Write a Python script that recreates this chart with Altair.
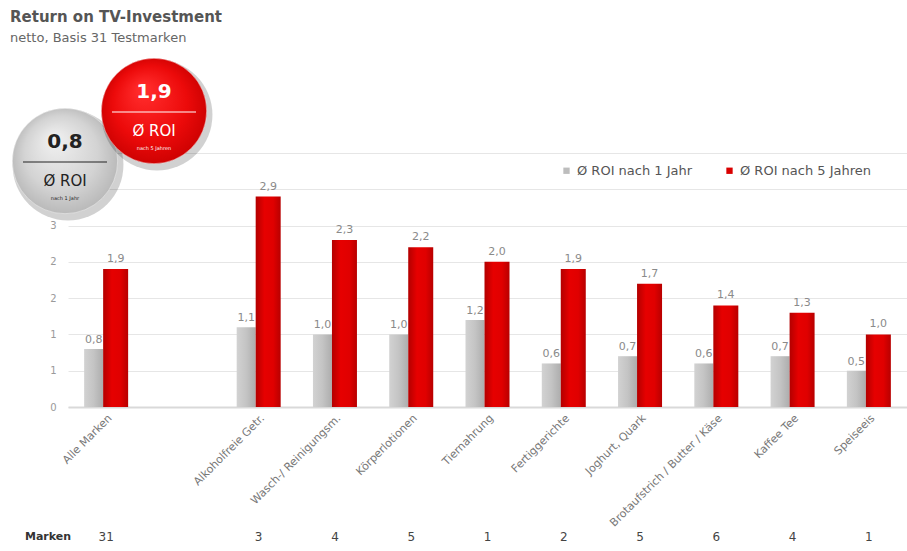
import altair as alt
import pandas as pd

# --- data -----------------------------------------------------------------
categories = [
    "Alle Marken", "Alkoholfreie Getr.", "Wasch-/ Reinigungsm.", "Körperlotionen",
    "Tiernahrung", "Fertiggerichte", "Joghurt, Quark",
    "Brotaufstrich / Butter / Käse", "Kaffee Tee", "Speiseeis",
]
roi_1_jahr = [0.8, 1.1, 1.0, 1.0, 1.2, 0.6, 0.7, 0.6, 0.7, 0.5]
roi_5_jahre = [1.9, 2.9, 2.3, 2.2, 2.0, 1.9, 1.7, 1.4, 1.3, 1.0]
marken = [31, 3, 4, 5, 1, 2, 5, 6, 4, 1]
series = ["Ø ROI nach 1 Jahr", "Ø ROI nach 5 Jahren"]
# an empty slot separates the total from the single categories
axis_order = [categories[0], " "] + categories[1:]
y_ticks = [0, 0.5, 1, 1.5, 2, 2.5, 3, 3.5]

badge_values = [0.8, 1.9]
badge_notes = ["nach 1 Jahr", "nach 5 Jahren"]

title_text = "Return on TV-Investment"
subtitle_text = "netto, Basis 31 Testmarken"

FONT = "DejaVu Sans"
GREY = "#bdbdbd"
RED = "#d90000"

# --- tables ---------------------------------------------------------------
wide = pd.DataFrame({"kategorie": categories, "roi1": roi_1_jahr,
                     "roi5": roi_5_jahre, "marken": marken})
long = wide.melt(id_vars=["kategorie", "marken"], value_vars=["roi1", "roi5"],
                 var_name="key", value_name="roi")
long["serie"] = long["key"].map({"roi1": series[0], "roi5": series[1]})

badges = pd.DataFrame({"wert": badge_values, "note": badge_notes})
heading = pd.DataFrame({"titel": [title_text], "untertitel": [subtitle_text]})

# --- scales / encodings ---------------------------------------------------
x_scale = alt.Scale(domain=axis_order, paddingInner=0, paddingOuter=0)
y_scale = alt.Scale(domain=[0, 3.5], nice=False, zero=True)

x_enc = alt.X("kategorie:N", scale=x_scale, sort=axis_order, title=None,
              axis=alt.Axis(labelAngle=-45, labelFont=FONT, labelFontSize=11,
                            labelColor="#777777", labelPadding=5, ticks=False,
                            domainColor="#d9d9d9", domainWidth=2,
                            labelLimit=220))
# the top labels sit beneath the badges and are left blank
y_enc = alt.Y("roi:Q", scale=y_scale, title=None,
              axis=alt.Axis(values=y_ticks, grid=True,
                            labelExpr="datum.value > 2.6 ? '' : format(datum.value, '.0f')",
                            gridColor="#e6e6e6", domain=False, ticks=False,
                            labelFont=FONT, labelFontSize=10,
                            labelColor="#9a9a9a", labelPadding=12))

grey_fill = alt.Gradient(gradient="linear", x1=0, x2=1, y1=0, y2=0, stops=[
    alt.GradientStop(color="#d2d2d2", offset=0),
    alt.GradientStop(color="#c4c4c4", offset=0.5),
    alt.GradientStop(color="#adadad", offset=1)])
red_fill = alt.Gradient(gradient="linear", x1=0, x2=1, y1=0, y2=0, stops=[
    alt.GradientStop(color="#b30000", offset=0),
    alt.GradientStop(color="#e60000", offset=0.35),
    alt.GradientStop(color="#e00000", offset=0.7),
    alt.GradientStop(color="#b80000", offset=1)])

base = alt.Chart(long)

grey_bars = base.transform_filter(alt.datum.key == "roi1").mark_bar(
    width=19, xOffset=-12.5, fill=grey_fill).encode(x=x_enc, y=y_enc)
red_bars = base.transform_filter(alt.datum.key == "roi5").mark_bar(
    width=25, xOffset=9.5, fill=red_fill).encode(x=x_enc, y=y_enc)

label_calc = "replace(format(datum.roi, '.1f'), '.', ',')"
grey_labels = base.transform_filter(alt.datum.key == "roi1").transform_calculate(
    lbl=label_calc).mark_text(font=FONT, fontSize=11, color="#8a8a8a",
                              baseline="bottom", dy=-4, xOffset=-12.5).encode(
    x=x_enc, y=y_enc, text="lbl:N")
red_labels = base.transform_filter(alt.datum.key == "roi5").transform_calculate(
    lbl=label_calc).mark_text(font=FONT, fontSize=11, color="#8a8a8a",
                              baseline="bottom", dy=-5, xOffset=9.5).encode(
    x=x_enc, y=y_enc, text="lbl:N")

# invisible marks that only carry the colour legend
legend_layer = base.mark_square(opacity=0).encode(
    x=x_enc, y=y_enc,
    color=alt.Color("serie:N", scale=alt.Scale(domain=series, range=[GREY, RED]),
                    legend=alt.Legend(title=None, orient="none", direction="horizontal",
                                      legendX=492, legendY=11, symbolType="square",
                                      symbolSize=40, symbolOpacity=1,
                                      symbolStrokeWidth=0, labelFont=FONT,
                                      labelFontSize=13, labelColor="#555555",
                                      labelOffset=4, columnPadding=30)))

# brand counts below the category labels
count_row = alt.Chart(wide).mark_text(font=FONT, fontSize=12, color="#444444").encode(
    x=x_enc, y=alt.value(384), text="marken:Q")
count_head = alt.Chart(heading).mark_text(
    font=FONT, fontSize=11, fontWeight="bold", color="#333333").encode(
    x=alt.value(-20), y=alt.value(384), text=alt.value("Marken"))

# title block
title_mark = alt.Chart(heading).mark_text(
    font=FONT, fontSize=15, fontWeight="bold", color="#555555",
    align="left", baseline="alphabetic").encode(
    x=alt.value(-58), y=alt.value(-131), text="titel:N")
subtitle_mark = alt.Chart(heading).mark_text(
    font=FONT, fontSize=13, color="#666666",
    align="left", baseline="alphabetic").encode(
    x=alt.value(-58), y=alt.value(-111), text="untertitel:N")

# average badges
grey_ball = alt.Gradient(gradient="radial", x1=0.4, y1=0.3, r1=0.05,
                         x2=0.5, y2=0.5, r2=0.55, stops=[
    alt.GradientStop(color="#ededed", offset=0),
    alt.GradientStop(color="#d3d3d3", offset=0.6),
    alt.GradientStop(color="#b4b4b4", offset=1)])
red_ball = alt.Gradient(gradient="radial", x1=0.4, y1=0.3, r1=0.05,
                        x2=0.5, y2=0.5, r2=0.55, stops=[
    alt.GradientStop(color="#ff2a2a", offset=0),
    alt.GradientStop(color="#ec0a0a", offset=0.6),
    alt.GradientStop(color="#c80000", offset=1)])

fmt_badge = "replace(format(datum.wert, '.1f'), '.', ',')"
grey_badge_data = alt.Chart(badges).transform_filter(
    alt.datum.wert == badge_values[0]).transform_calculate(txt=fmt_badge)
red_badge_data = alt.Chart(badges).transform_filter(
    alt.datum.wert == badge_values[1]).transform_calculate(txt=fmt_badge)


def badge(src, cx, cy, fill, ink):
    shadow = src.mark_circle(color="#000000", opacity=0.18).encode(
        x=alt.value(cx + 3), y=alt.value(cy + 4), size=alt.value(12300))
    disc = src.mark_circle(fill=fill, opacity=1, stroke="#ffffff",
                           strokeOpacity=0.4, strokeWidth=1).encode(
        x=alt.value(cx), y=alt.value(cy), size=alt.value(11100))
    big = src.mark_text(font=FONT, fontSize=20, fontWeight="bold", color=ink).encode(
        x=alt.value(cx), y=alt.value(cy - 19), text="txt:N")
    line = src.mark_rule(color=ink, strokeWidth=1.2).encode(
        x=alt.value(cx - 42), x2=alt.value(cx + 42), y=alt.value(cy + 1))
    roi = src.mark_text(font=FONT, fontSize=15, color=ink).encode(
        x=alt.value(cx), y=alt.value(cy + 20), text=alt.value("Ø ROI"))
    note = src.mark_text(font=FONT, fontSize=5, color=ink).encode(
        x=alt.value(cx), y=alt.value(cy + 37), text="note:N")
    return [shadow, disc, big, line, roi, note]


layers = [grey_bars, red_bars, grey_labels, red_labels, legend_layer,
          count_row, count_head, title_mark, subtitle_mark]
layers += badge(grey_badge_data, -3, 8, grey_ball, "#222222")
layers += badge(red_badge_data, 86, -42, red_ball, "#ffffff")

chart = alt.layer(*layers).resolve_scale(color="independent").properties(
    width=839, height=254,
    autosize=alt.AutoSizeParams(type="none"),
    padding={"left": 68, "top": 153, "right": 0, "bottom": 144},
    background="#ffffff",
).configure_view(stroke=None)

chart.save("out.html", embed_options={"renderer": "svg", "actions": False})
